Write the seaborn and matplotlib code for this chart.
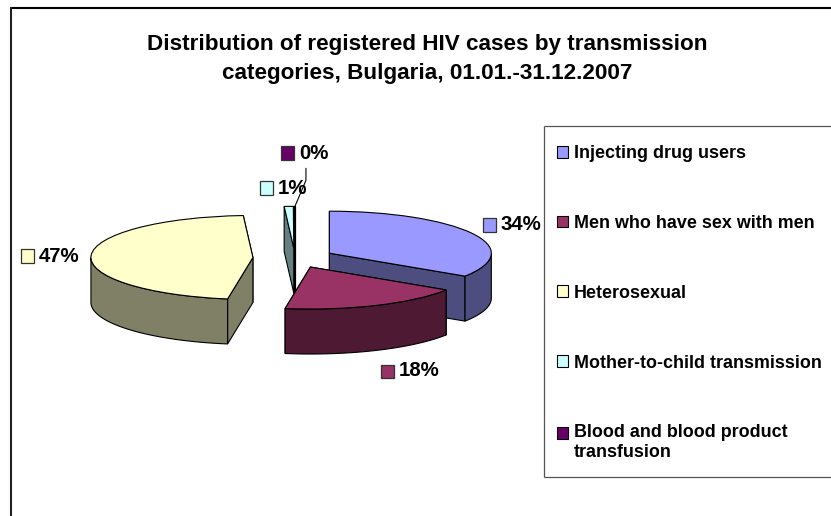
import numpy as np
import matplotlib
matplotlib.use("Agg")
import matplotlib.pyplot as plt
from matplotlib.lines import Line2D
from matplotlib.patches import Polygon, Rectangle
import seaborn as sns

categories = ["Injecting drug users", "Men who have sex with men", "Heterosexual",
              "Mother-to-child transmission", "Blood and blood product\ntransfusion"]
shares = [34.2, 18.3, 46.55, 0.9, 0.05]
colors = ["#9999FF", "#993366", "#FFFFCC", "#CCFFFF", "#660066"]
side_colors = ["#4D4D80", "#4D1933", "#808066", "#668080", "#668080"]
title = "Distribution of registered HIV cases by transmission\ncategories, Bulgaria, 01.01.-31.12.2007"

W, H = 831, 516
RX, RY = 162, 42
CX, CY = 295, 258
DEPTH = 45 / RY

sns.set_theme(style="white")
plt.rcParams["font.family"] = ["Liberation Sans", "DejaVu Sans"]
plt.rcParams["font.weight"] = "bold"
plt.rcParams["text.color"] = "black"

fig = plt.figure(figsize=(W / 100, H / 100), dpi=100)
ax = fig.add_axes([0, 0, 1, 1])
palette = sns.color_palette(colors)


def px(x, y):
    return x / W, 1 - y / H


def line(xs, ys, color, lw):
    fig.add_artist(Line2D([x / W for x in xs], [1 - y / H for y in ys], color=color, linewidth=lw,
                          transform=fig.transFigure, solid_capstyle="butt"))


wedges, _ = ax.pie(shares, colors=palette, startangle=90, counterclock=False, radius=1,
                   explode=[0.241, 0.235, 0.26, 0.23, 0.23],
                   wedgeprops=dict(edgecolor="black", linewidth=0.8), frame=False)
ax.set_aspect("auto")
ax.set_xlim(-CX / RX, (W - CX) / RX)
ax.set_ylim((CY - H) / RY, CY / RY)
ax.axis("off")

draw_order = [4, 3, 0, 2, 1]
for n, i in enumerate(draw_order):
    w = wedges[i]
    cx, cy = w.center
    z = 2 + n
    w.set_zorder(z + 0.5)
    # radial side faces, the one further back first
    rim = []
    for th in (w.theta1, w.theta2):
        rim.append((np.sin(np.radians(th)), th))
    for _, th in sorted(rim, reverse=True):
        rx = cx + np.cos(np.radians(th))
        ry = cy + np.sin(np.radians(th))
        ax.add_patch(Polygon([(cx, cy), (rx, ry), (rx, ry - DEPTH), (cx, cy - DEPTH)],
                             facecolor=side_colors[i], edgecolor="black", linewidth=0.8, zorder=z))
    # outer wall, front half of the rim only
    t = np.radians(np.linspace(w.theta1, w.theta2, 400))
    t = t[np.sin(t) <= 0]
    if len(t) > 1:
        xs = cx + np.cos(t)
        ys = cy + np.sin(t)
        pts = np.r_[np.c_[xs, ys], np.c_[xs, ys - DEPTH][::-1]]
        ax.add_patch(Polygon(pts, facecolor=side_colors[i], edgecolor="black", linewidth=0.8, zorder=z + 0.2))

# outer frame runs off the picture on the right and at the bottom
line([11, W], [8, 8], "black", 1.5)
line([11, 11], [7, H], "#222222", 1.5)

# legend box, also cut off on the right
line([544, W], [126, 126], "#555555", 0.9)
line([544, W], [477, 477], "#555555", 0.9)
line([544, 544], [126, 477], "#555555", 0.9)

fig.text(*px(427, 59), title, ha="center", va="center", fontsize=16.2, linespacing=1.55)

leg = ax.legend(wedges, categories, loc="upper left", bbox_to_anchor=px(557, 145),
                bbox_transform=fig.transFigure, frameon=False,
                borderpad=0, borderaxespad=0, handlelength=0.64, handleheight=0.64,
                handletextpad=0.32, labelspacing=2.95, prop=dict(family="Liberation Sans", weight="bold", size=12.9))
leg.set_zorder(20)
# swatch of the two-line entry sits beside its first line
last = leg.legend_handles[4]
last.set_y(last.get_y() + 7)

# data labels with their colour keys
label_pos = [(501, 225), (399, 371), (39, 256), (278, 188), (299, 153)]
for i, (x, y) in enumerate(label_pos):
    fig.text(*px(x, y), f"{round(shares[i])}%", ha="left", va="center", fontsize=14.7)
    s = 13
    fig.add_artist(Rectangle(px(x - 18, y + s / 2), s / W, s / H, transform=fig.transFigure,
                             facecolor=palette[i], edgecolor="#333333", linewidth=0.9))

# leader line for the smallest slice
w = wedges[4]
lead_x = w.center[0] + np.cos(np.radians(w.theta1))
lead_y = w.center[1] + np.sin(np.radians(w.theta1))
ax.plot([lead_x, lead_x + 11 / RX, lead_x + 11 / RX],
        [lead_y, lead_y + 26 / RY, lead_y + 38 / RY], color="black", linewidth=0.8, zorder=10)

fig.savefig("out.png", dpi=100)
